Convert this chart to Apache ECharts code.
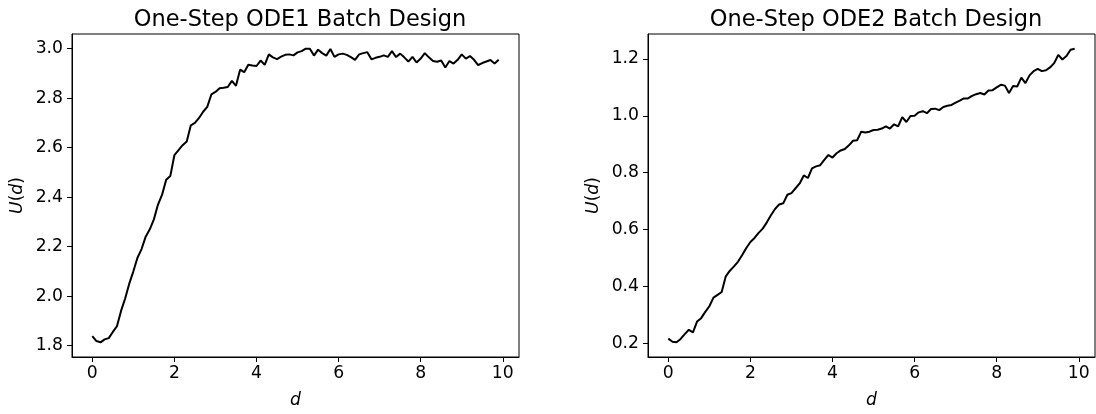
<!DOCTYPE html>
<html>
<head>
<meta charset="utf-8">
<script src="https://cdn.jsdelivr.net/npm/echarts@6/dist/echarts.min.js"></script>
<style>html,body{margin:0;padding:0;background:#fff}#c{width:1096px;height:414px}</style>
</head>
<body>
<div id="c"></div>
<script>
// d values 0.0 .. 9.9
const dValues = Array.from({length: 100}, (_, i) => +(i * 0.1).toFixed(1));
const xTicks = [0, 2, 4, 6, 8, 10];
const ode1Ticks = [1.8, 2.0, 2.2, 2.4, 2.6, 2.8, 3.0];
const ode2Ticks = [0.2, 0.4, 0.6, 0.8, 1.0, 1.2];
const titles = ['One-Step ODE1 Batch Design', 'One-Step ODE2 Batch Design'];

const ode1U = [
  1.838, 1.818, 1.813, 1.825, 1.830, 1.855, 1.878, 1.940, 1.990, 2.050,
  2.100, 2.155, 2.190, 2.240, 2.270, 2.310, 2.370, 2.410, 2.470, 2.485,
  2.570, 2.590, 2.610, 2.625, 2.690, 2.700, 2.720, 2.745, 2.765, 2.815,
  2.825, 2.840, 2.842, 2.845, 2.870, 2.850, 2.915, 2.905, 2.935, 2.932,
  2.930, 2.952, 2.935, 2.977, 2.965, 2.958, 2.968, 2.975, 2.977, 2.973,
  2.985, 2.990, 3.000, 3.000, 2.972, 2.996, 2.982, 2.972, 2.999, 2.967,
  2.977, 2.980, 2.975, 2.966, 2.955, 2.977, 2.982, 2.986, 2.957, 2.963,
  2.967, 2.973, 2.967, 2.990, 2.966, 2.980, 2.965, 2.948, 2.967, 2.944,
  2.960, 2.982, 2.965, 2.950, 2.947, 2.952, 2.924, 2.950, 2.940, 2.955,
  2.977, 2.960, 2.970, 2.955, 2.934, 2.942, 2.948, 2.954, 2.940, 2.955
];

const ode2U = [
  0.216, 0.205, 0.203, 0.215, 0.232, 0.247, 0.238, 0.276, 0.288, 0.310,
  0.330, 0.360, 0.370, 0.380, 0.435, 0.455, 0.470, 0.487, 0.510, 0.535,
  0.556, 0.570, 0.588, 0.603, 0.625, 0.650, 0.672, 0.688, 0.692, 0.722,
  0.728, 0.745, 0.762, 0.790, 0.781, 0.815, 0.822, 0.826, 0.845, 0.862,
  0.853, 0.868, 0.878, 0.883, 0.896, 0.912, 0.914, 0.944, 0.941, 0.944,
  0.950, 0.951, 0.955, 0.963, 0.955, 0.970, 0.963, 0.995, 0.978, 0.999,
  1.000, 1.012, 1.016, 1.009, 1.024, 1.025, 1.020, 1.031, 1.035, 1.038,
  1.046, 1.053, 1.061, 1.061, 1.070, 1.076, 1.080, 1.075, 1.089, 1.090,
  1.100, 1.109, 1.106, 1.080, 1.105, 1.103, 1.134, 1.115, 1.142, 1.157,
  1.165, 1.157, 1.160, 1.170, 1.185, 1.214, 1.198, 1.210, 1.232, 1.236
];

const FONT = 'DejaVu Sans';
const TXT = '#000';
const FS = 17.2;

function mmRange(arr) {
  const mn = Math.min(...arr), mx = Math.max(...arr);
  const m = (mx - mn) * 0.05;
  return [mn - m, mx + m];
}
const xr = mmRange(dValues);
const y1r = mmRange(ode1U);
const y2r = mmRange(ode2U);

function xAxis(gi) {
  return {
    type: 'value', gridIndex: gi, min: xr[0], max: xr[1],
    name: '{i|d}', nameLocation: 'middle', nameGap: 35,
    nameTextStyle: {rich: {i: {fontFamily: FONT, fontStyle: 'italic', fontSize: FS, color: TXT}}},
    axisLine: {show: true, onZero: false, lineStyle: {color: '#000', width: 1}},
    axisTick: {show: true, inside: false, length: 5, lineStyle: {color: '#000', width: 1}, customValues: xTicks},
    axisLabel: {show: true, margin: 8, fontFamily: FONT, fontSize: FS, color: TXT, customValues: xTicks,
      formatter: v => String(v)},
    splitLine: {show: false}
  };
}
function yAxis(gi, r, ticks) {
  return {
    type: 'value', gridIndex: gi, min: r[0], max: r[1],
    name: '{i|U}{n|(}{i|d}{n|)}', nameLocation: 'middle', nameGap: 46,
    nameTextStyle: {rich: {
      i: {fontFamily: FONT, fontStyle: 'italic', fontSize: FS, color: TXT},
      n: {fontFamily: FONT, fontSize: FS, color: TXT}
    }},
    axisLine: {show: true, onZero: false, lineStyle: {color: '#000', width: 1}},
    axisTick: {show: true, inside: false, length: 5, lineStyle: {color: '#000', width: 1}, customValues: ticks},
    axisLabel: {show: true, margin: 9, fontFamily: FONT, fontSize: FS, color: TXT, customValues: ticks,
      formatter: v => v.toFixed(1)},
    splitLine: {show: false}
  };
}

const chart = echarts.init(document.getElementById('c'), null, {renderer: 'canvas'});
chart.setOption({
  animation: false,
  backgroundColor: '#fff',
  title: [
    {text: titles[0], left: 295, top: 4, textAlign: 'center',
      textStyle: {fontFamily: FONT, fontSize: 22.5, fontWeight: 'normal', color: TXT}},
    {text: titles[1], left: 871, top: 4, textAlign: 'center',
      textStyle: {fontFamily: FONT, fontSize: 22.5, fontWeight: 'normal', color: TXT}}
  ],
  grid: [
    {left: 72, top: 34, width: 447, height: 333, show: true, borderColor: '#000', borderWidth: 1, backgroundColor: 'transparent'},
    {left: 648, top: 34, width: 447, height: 333, show: true, borderColor: '#000', borderWidth: 1, backgroundColor: 'transparent'}
  ],
  xAxis: [xAxis(0), xAxis(1)],
  yAxis: [yAxis(0, y1r, ode1Ticks), yAxis(1, y2r, ode2Ticks)],
  series: [
    {type: 'line', xAxisIndex: 0, yAxisIndex: 0, data: dValues.map((d, i) => [d, ode1U[i]]),
      showSymbol: false, symbol: 'none', lineStyle: {color: '#000', width: 2}, z: 3},
    {type: 'line', xAxisIndex: 1, yAxisIndex: 1, data: dValues.map((d, i) => [d, ode2U[i]]),
      showSymbol: false, symbol: 'none', lineStyle: {color: '#000', width: 2}, z: 3}
  ]
});
</script>
</body>
</html>
